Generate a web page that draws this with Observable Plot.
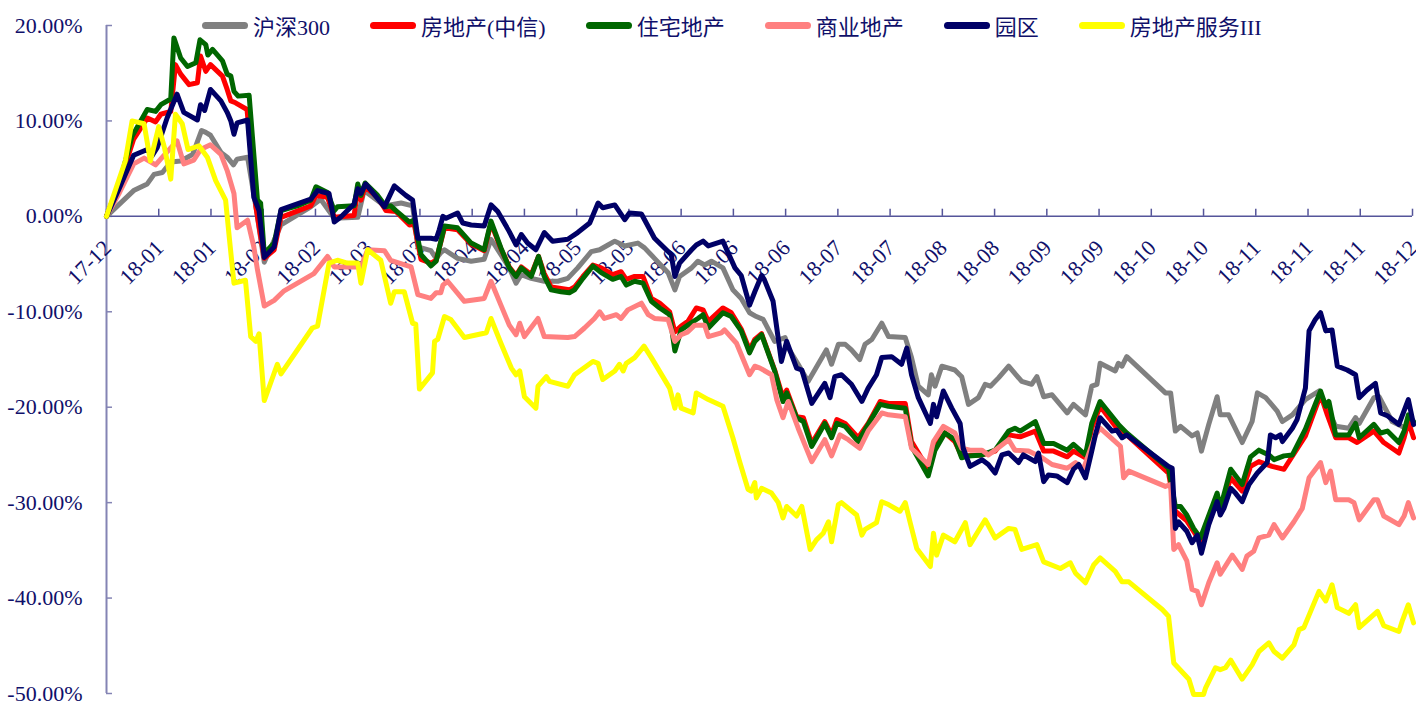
<!DOCTYPE html>
<html><head><meta charset="utf-8">
<script src="https://cdn.jsdelivr.net/npm/d3@7"></script>
<script src="https://cdn.jsdelivr.net/npm/@observablehq/plot@0.6"></script>
<style>
body{margin:0;background:#fff;}
#wrap{position:relative;width:1416px;height:705px;}
#legend{position:absolute;left:202px;top:0;height:50px;display:flex;align-items:center;font-family:"Liberation Serif","Noto Sans CJK SC",serif;font-size:22px;color:#10106a;white-space:nowrap;}
.item{display:flex;align-items:center;margin-right:40px;}
.sw{width:46px;height:7px;border-radius:4px;margin-right:5px;}
</style></head>
<body><div id="wrap"></div>
<script>
// ---- data (day index from 2017-12 start, cumulative return in %) ----
const tickLabels = ["17-12","18-01","18-01","18-02","18-02","18-03","18-03","18-04","18-04","18-05","18-05","18-06","18-06","18-06","18-07","18-07","18-08","18-08","18-09","18-09","18-10","18-10","18-11","18-11","18-11","18-12"];
const yTicks = [20,10,0,-10,-20,-30,-40,-50];
const seriesNames = ["沪深300","房地产(中信)","住宅地产","商业地产","园区","房地产服务III"];
const seriesColors = ["#808080","#ff0000","#006600","#ff8080","#000066","#ffff00"];

const hs300 = [[0,0],[5.2,2.7],[7.8,3.4],[9.1,4.4],[10.7,4.6],[12.3,5.7],[14.2,5.8],[16.5,6.5],[18.2,9.0],[19.0,8.8],[19.9,8.5],[21.9,6.7],[23.1,6.2],[24.3,5.4],[25.0,6.0],[27.0,6.2],[28.6,1.0],[30.2,-4.8],[33.4,-0.9],[39.1,1.0],[41.0,1.8],[43.6,-0.2],[48.1,-0.1],[49.3,2.7],[53.2,1.1],[56.4,1.4],[58.6,1.1],[59.6,-3.2],[62.1,-3.6],[63.1,-4.4],[64.0,-3.8],[64.7,-3.5],[67.2,-4.4],[69.8,-4.7],[72.3,-4.5],[73.6,-2.4],[75.5,-4.0],[77.1,-5.4],[78.4,-7.0],[79.4,-6.1],[81.3,-6.5],[83.8,-6.8],[86.4,-6.8],[88.3,-6.5],[90.2,-5.4],[92.8,-3.7],[94.4,-3.5],[96.0,-3.0],[97.3,-2.6],[99.2,-3.1],[101.7,-2.8],[103.0,-3.3],[104.9,-4.4],[107.5,-5.9],[108.8,-7.7],[109.7,-6.3],[112.0,-5.4],[113.2,-4.7],[114.5,-5.1],[115.8,-4.7],[118.0,-5.4],[119.9,-7.7],[121.5,-8.6],[123.1,-10.1],[124.4,-10.5],[125.7,-10.8],[127.9,-13.1],[129.9,-12.7],[130.5,-13.8],[132.4,-15.5],[134.3,-17.3],[137.8,-14.0],[138.8,-15.5],[140.1,-13.4],[141.4,-13.4],[142.6,-14.0],[144.2,-15.0],[145.2,-13.4],[146.5,-12.9],[148.4,-11.2],[149.7,-12.6],[152.9,-12.7],[154.1,-14.8],[155.4,-17.8],[157.3,-18.7],[157.9,-16.6],[158.6,-17.8],[159.9,-15.7],[162.4,-16.1],[163.7,-16.8],[165.0,-19.7],[166.9,-19.0],[168.2,-17.6],[169.2,-17.8],[170.8,-16.9],[172.7,-15.7],[175.2,-17.3],[177.1,-17.6],[178.1,-16.8],[179.4,-18.9],[181.0,-18.7],[183.9,-20.6],[185.1,-19.7],[187.4,-20.8],[188.6,-17.8],[189.6,-17.6],[190.2,-15.4],[193.1,-16.2],[193.7,-15.4],[194.4,-15.7],[195.3,-14.7],[202.7,-18.5],[203.7,-18.5],[204.6,-22.5],[205.6,-22.0],[207.8,-23.0],[208.8,-22.7],[209.6,-24.6],[211.0,-21.8],[212.6,-18.9],[213.2,-20.8],[214.8,-20.8],[217.4,-23.7],[219.3,-21.5],[220.3,-18.5],[221.9,-19.0],[224.1,-20.4],[225.1,-21.5],[227.0,-20.8],[229.5,-19.2],[232.1,-18.3],[235.3,-22.0],[237.8,-22.2],[239.1,-21.1],[239.8,-21.7],[242.6,-19.0],[243.6,-18.9],[246.1,-21.5],[248.7,-22.2],[250.2,-21.8]];

const realEstate = [[0,0],[2.5,3.5],[5.2,8.1],[7.8,10.3],[9.4,9.9],[10.4,10.7],[12.3,11.0],[13.2,15.9],[14.2,14.9],[15.8,13.8],[17.4,14.0],[18.0,16.8],[19.0,15.2],[19.9,15.9],[22.2,14.7],[23.1,13.3],[23.8,12.1],[24.7,11.9],[26.9,11.2],[28.6,1.0],[30.2,-4.4],[32.1,-3.5],[33.4,-0.1],[39.1,1.1],[40.1,2.2],[42.3,2.0],[43.6,-0.1],[47.4,0.1],[48.1,2.9],[48.7,1.7],[49.5,3.1],[51.9,2.0],[53.5,0.6],[55.4,0.5],[58.0,-0.9],[58.9,-0.8],[60.2,-4.5],[62.1,-4.9],[63.1,-4.6],[64.7,-1.2],[67.2,-1.4],[69.8,-2.9],[72.3,-3.6],[73.6,-0.7],[75.5,-3.4],[77.1,-5.3],[78.4,-6.2],[79.4,-5.3],[81.3,-6.1],[82.7,-4.2],[83.8,-6.0],[85.1,-7.4],[88.6,-7.7],[89.6,-7.4],[91.2,-6.3],[93.1,-5.1],[94.7,-5.4],[96.9,-6.1],[98.5,-5.8],[99.5,-6.6],[101.1,-6.3],[102.7,-6.3],[104.3,-8.6],[105.9,-9.1],[107.8,-10.0],[108.8,-12.1],[110.0,-11.5],[111.3,-11.0],[112.9,-9.6],[114.2,-9.8],[115.2,-11.0],[118.0,-9.6],[119.6,-10.1],[121.5,-11.8],[123.1,-14.0],[124.1,-12.9],[125.4,-12.3],[127.9,-16.1],[129.5,-19.0],[130.2,-18.2],[132.1,-21.0],[133.4,-21.1],[135.0,-23.8],[137.5,-21.5],[138.8,-22.9],[139.8,-21.3],[141.4,-21.7],[143.9,-23.2],[145.8,-21.7],[148.1,-19.4],[149.7,-19.6],[152.9,-19.6],[154.1,-23.6],[157.3,-26.5],[158.6,-24.1],[160.5,-22.7],[162.4,-23.6],[163.7,-25.1],[167.6,-25.0],[170.1,-24.6],[172.7,-22.9],[174.9,-23.1],[177.8,-22.5],[179.4,-24.6],[181.3,-24.6],[183.9,-25.2],[185.1,-24.6],[187.4,-25.3],[188.6,-22.2],[190.2,-19.9],[193.7,-22.4],[195.3,-22.9],[203.3,-26.9],[204.6,-30.9],[206.8,-31.9],[208.1,-33.0],[209.4,-34.1],[212.6,-29.5],[213.2,-30.9],[215.2,-27.4],[217.4,-28.8],[219.0,-26.2],[220.6,-25.7],[223.1,-26.2],[225.4,-26.5],[229.5,-23.0],[232.4,-18.7],[233.7,-20.8],[235.3,-23.2],[237.8,-23.2],[239.4,-23.7],[242.6,-22.5],[244.5,-23.7],[247.4,-24.8],[248.4,-23.2],[249.2,-21.5],[250.2,-23.2]];

const residential = [[0,0],[2.5,3.5],[4.9,8.4],[7.8,11.2],[9.4,11.0],[10.4,11.7],[12.3,12.3],[12.9,18.7],[14.2,16.6],[15.5,15.7],[17.1,16.1],[17.9,18.5],[19.0,18.0],[19.4,16.9],[20.3,17.5],[22.2,16.3],[23.1,14.9],[23.8,14.7],[24.4,13.1],[25.2,12.6],[27.3,12.7],[28.9,1.7],[29.5,1.4],[30.2,-3.9],[32.1,-2.8],[33.4,0.6],[36.5,1.1],[39.1,1.7],[40.1,3.1],[42.3,2.5],[43.6,0.6],[44.2,1.0],[47.4,1.1],[48.1,3.4],[48.7,2.2],[49.5,3.5],[51.9,2.2],[53.5,1.0],[54.4,1.1],[55.4,0.6],[58.0,-0.6],[58.9,-0.4],[60.2,-4.0],[62.1,-5.2],[63.1,-4.7],[64.7,-1.0],[67.2,-1.2],[69.8,-2.8],[72.3,-3.5],[73.6,-0.5],[75.5,-3.3],[77.1,-5.4],[78.4,-6.3],[79.4,-5.4],[81.3,-6.3],[82.7,-4.2],[83.8,-6.3],[85.1,-7.7],[87.0,-7.9],[88.6,-8.0],[89.6,-7.7],[91.2,-6.5],[93.1,-5.2],[94.7,-5.9],[96.9,-6.6],[98.5,-6.3],[99.5,-7.2],[101.1,-6.8],[102.7,-7.0],[104.3,-8.9],[105.9,-9.6],[107.8,-10.3],[108.8,-14.1],[110.0,-11.9],[111.3,-11.4],[113.2,-10.7],[114.2,-10.3],[115.2,-11.7],[118.0,-10.1],[119.6,-10.5],[121.5,-12.0],[123.1,-14.3],[124.1,-13.1],[125.4,-12.4],[127.9,-16.2],[129.5,-19.4],[130.2,-18.5],[132.1,-21.1],[133.4,-21.5],[135.0,-24.1],[137.5,-21.7],[138.8,-23.2],[139.8,-21.7],[141.4,-22.0],[143.9,-23.6],[145.8,-21.8],[148.1,-19.7],[149.7,-19.9],[152.9,-20.1],[154.1,-24.1],[157.3,-27.2],[158.6,-24.5],[160.5,-22.7],[162.4,-23.4],[163.7,-25.3],[165.0,-25.1],[167.6,-25.0],[170.1,-24.5],[172.7,-22.5],[173.9,-22.2],[174.9,-22.5],[177.8,-21.5],[179.4,-23.8],[181.3,-23.8],[183.9,-24.5],[185.1,-23.9],[187.4,-25.0],[188.6,-21.7],[190.2,-19.4],[193.7,-21.8],[195.3,-22.7],[203.3,-26.4],[204.6,-30.4],[205.6,-30.4],[206.8,-31.3],[208.1,-32.7],[209.4,-33.7],[212.6,-29.0],[213.2,-30.6],[215.2,-26.5],[217.4,-28.1],[219.0,-25.2],[220.6,-24.5],[222.5,-25.0],[223.5,-25.5],[225.4,-25.1],[227.0,-25.0],[229.5,-22.3],[232.4,-18.3],[233.4,-19.9],[234.0,-19.4],[235.3,-22.9],[237.8,-22.9],[239.1,-21.7],[239.8,-23.2],[242.6,-21.8],[243.9,-22.7],[245.2,-22.5],[247.4,-23.7],[248.4,-22.5],[249.2,-20.8],[250.2,-21.5]];

const commercial = [[0,0],[2.5,2.5],[5.2,5.5],[7.2,6.1],[9.4,5.4],[10.7,6.2],[13.5,7.9],[14.8,5.5],[16.7,5.9],[18.0,7.0],[19.9,7.5],[21.9,6.5],[23.1,4.8],[24.4,2.4],[25.0,-1.2],[27.0,-0.4],[28.2,-3.2],[28.9,-5.6],[30.2,-9.4],[32.1,-8.8],[34.0,-7.8],[39.7,-6.0],[42.3,-4.2],[43.6,-5.3],[48.7,-5.3],[50.0,-3.5],[53.2,-3.6],[54.4,-4.6],[58.3,-5.3],[59.6,-8.2],[62.1,-8.6],[63.1,-8.0],[64.0,-8.0],[64.4,-7.2],[65.3,-6.8],[68.5,-8.9],[72.3,-8.6],[73.6,-6.8],[75.5,-9.3],[77.1,-11.4],[78.4,-12.4],[79.1,-11.2],[80.0,-12.6],[82.6,-10.7],[83.8,-12.6],[88.3,-12.7],[89.6,-12.6],[91.5,-11.7],[93.4,-10.7],[94.4,-10.0],[95.3,-10.7],[97.6,-10.3],[98.5,-10.7],[99.8,-9.8],[102.4,-9.1],[103.7,-10.3],[104.9,-10.7],[107.5,-10.8],[108.8,-13.1],[110.0,-12.4],[111.3,-12.1],[112.6,-11.4],[114.5,-11.4],[115.2,-12.6],[117.7,-12.2],[118.3,-11.9],[120.6,-13.3],[123.1,-16.6],[124.1,-15.7],[125.1,-15.9],[127.3,-16.6],[128.3,-19.2],[129.5,-21.1],[130.5,-19.4],[132.4,-22.2],[135.0,-25.7],[137.5,-23.4],[138.8,-25.1],[140.4,-22.9],[142.0,-23.4],[144.2,-24.3],[145.8,-22.5],[148.4,-20.6],[149.7,-20.8],[152.9,-21.0],[154.1,-24.3],[157.3,-26.0],[158.3,-23.6],[160.2,-22.0],[162.4,-22.7],[163.7,-24.3],[165.3,-24.5],[167.6,-24.5],[168.8,-25.0],[170.1,-24.5],[172.7,-23.4],[173.9,-24.5],[176.5,-24.6],[179.1,-25.3],[181.0,-26.0],[183.9,-26.4],[185.5,-25.8],[187.0,-26.5],[189.3,-22.9],[190.2,-22.2],[193.1,-23.6],[194.1,-24.1],[194.7,-27.4],[195.7,-26.7],[202.7,-28.3],[203.7,-28.1],[204.3,-34.9],[205.2,-34.4],[206.8,-36.1],[207.8,-39.1],[208.8,-39.3],[209.6,-40.7],[211.0,-38.4],[212.6,-36.3],[213.2,-37.5],[215.5,-35.5],[217.4,-37.0],[218.3,-35.6],[219.6,-35.1],[220.6,-33.7],[222.5,-33.4],[223.5,-32.3],[225.1,-33.7],[227.3,-32.0],[228.9,-30.6],[230.2,-27.4],[232.4,-25.8],[233.4,-27.9],[234.3,-26.7],[235.3,-29.7],[237.8,-29.7],[238.8,-30.0],[239.8,-31.8],[242.6,-29.7],[243.3,-29.7],[244.5,-31.4],[247.4,-32.3],[248.4,-31.4],[249.2,-30.0],[250.2,-31.6]];

const parks = [[0,0],[2.5,3.0],[5.2,6.4],[7.8,7.0],[8.8,6.4],[9.7,7.2],[11.6,10.3],[13.5,12.8],[14.8,10.9],[17.4,10.1],[18.0,11.7],[18.8,11.1],[19.9,13.3],[21.9,12.1],[23.1,10.9],[23.8,10.0],[24.4,8.6],[25.0,9.8],[27.0,10.1],[28.2,2.0],[29.2,0.6],[30.2,-4.3],[32.1,-3.2],[33.4,0.7],[39.1,1.8],[40.4,2.7],[42.6,2.4],[43.6,-0.6],[44.8,-0.1],[47.4,1.3],[48.1,2.9],[48.7,2.4],[49.6,3.4],[53.2,1.0],[55.1,3.2],[57.3,2.2],[58.6,1.7],[59.6,-2.3],[62.1,-2.3],[63.1,-2.4],[63.7,-1.4],[64.4,0],[65.0,-0.2],[67.2,0.35],[68.2,-0.7],[69.8,-0.9],[72.3,-1.0],[73.6,1.2],[74.9,0.5],[77.1,-1.6],[78.4,-3.0],[79.4,-1.9],[80.6,-2.8],[82.2,-3.5],[83.8,-1.7],[85.4,-2.6],[88.3,-2.4],[90.2,-1.7],[92.5,-0.7],[94.1,1.4],[95.0,0.9],[97.3,1.2],[99.2,-0.35],[100.1,0.35],[102.4,0.25],[104.9,-2.3],[108.1,-4.0],[108.8,-6.3],[109.7,-4.9],[112.0,-3.5],[112.9,-3.0],[114.2,-2.6],[115.2,-3.1],[118.0,-2.6],[120.3,-5.4],[121.5,-6.2],[123.1,-9.3],[124.1,-7.9],[125.4,-6.2],[125.9,-6.6],[127.6,-8.9],[129.2,-15.2],[130.2,-13.1],[132.1,-15.9],[133.1,-16.1],[135.0,-19.6],[137.5,-17.5],[138.5,-19.0],[139.4,-16.8],[140.7,-16.6],[142.6,-17.6],[144.6,-19.4],[145.8,-18.0],[147.4,-16.6],[148.4,-14.8],[150.3,-14.7],[152.2,-15.5],[153.2,-13.8],[154.1,-16.6],[155.4,-19.0],[157.7,-21.7],[158.3,-19.7],[158.9,-21.0],[160.2,-18.3],[161.8,-20.1],[163.4,-21.7],[164.0,-24.3],[165.3,-26.2],[167.6,-25.5],[168.8,-26.0],[170.1,-26.9],[171.4,-25.0],[172.7,-24.8],[174.6,-25.8],[175.5,-25.0],[177.8,-25.7],[178.4,-24.8],[179.4,-27.8],[180.3,-27.1],[181.9,-27.2],[183.9,-27.9],[185.1,-26.5],[186.1,-26.0],[187.4,-27.4],[188.6,-24.6],[189.3,-22.9],[190.2,-21.1],[192.5,-22.5],[193.4,-22.4],[194.4,-23.2],[195.3,-22.9],[203.3,-26.2],[204.0,-26.4],[204.6,-32.7],[205.2,-32.0],[206.8,-33.0],[207.8,-34.2],[208.8,-33.4],[209.6,-35.3],[211.0,-32.3],[212.6,-29.9],[213.2,-31.3],[213.9,-30.6],[215.2,-28.5],[216.1,-29.0],[217.4,-29.9],[218.7,-28.1],[220.3,-26.9],[222.2,-25.8],[222.8,-22.9],[223.8,-23.2],[224.7,-22.9],[225.1,-23.6],[227.0,-22.2],[227.9,-21.3],[229.5,-18.0],[230.2,-12.0],[231.4,-10.8],[232.4,-10.1],[233.4,-12.0],[234.6,-11.9],[235.6,-15.7],[237.5,-16.1],[239.1,-16.6],[239.8,-19.0],[241.3,-18.2],[242.9,-17.5],[243.9,-20.6],[245.2,-20.9],[247.4,-21.8],[249.2,-19.2],[250.2,-21.8]];

const services = [[0,0],[3.6,5.8],[4.9,10.0],[7.2,9.7],[8.4,5.8],[10.0,9.4],[11.1,7.2],[12.3,3.9],[13.2,10.7],[14.5,9.7],[15.6,7.0],[17.7,7.4],[19.3,6.2],[20.9,3.75],[22.8,1.7],[23.5,-2.2],[24.4,-7.0],[26.6,-6.7],[27.6,-12.6],[28.6,-13.1],[29.2,-12.3],[30.2,-19.3],[32.7,-15.5],[33.4,-16.5],[39.4,-11.7],[40.4,-11.5],[42.6,-4.9],[44.2,-4.6],[46.1,-4.9],[48.1,-4.9],[48.7,-7.0],[50.0,-3.5],[52.5,-4.6],[54.4,-9.1],[55.1,-7.9],[57.0,-7.9],[58.6,-11.2],[59.2,-11.3],[59.9,-18.1],[62.4,-16.4],[62.8,-13.1],[63.4,-12.9],[64.7,-10.5],[65.9,-10.8],[68.5,-12.7],[72.7,-12.2],[73.6,-10.7],[75.5,-13.3],[77.5,-15.9],[78.4,-16.6],[79.1,-16.2],[80.0,-18.9],[82.2,-20.1],[82.6,-17.8],[84.2,-16.8],[84.8,-17.3],[88.3,-17.8],[89.6,-16.6],[93.1,-15.2],[94.1,-15.4],[95.0,-17.1],[97.3,-16.2],[98.2,-15.5],[98.9,-16.2],[99.5,-15.4],[101.1,-14.8],[102.9,-13.6],[104.3,-14.8],[107.8,-18.0],[108.8,-20.1],[109.4,-18.7],[110.0,-20.1],[112.3,-20.6],[112.9,-18.5],[115.2,-19.2],[118.0,-19.9],[119.9,-23.2],[121.2,-25.7],[122.8,-28.6],[123.4,-28.8],[124.1,-27.9],[124.4,-29.5],[125.4,-28.5],[127.3,-29.0],[128.6,-30.0],[129.5,-31.6],[130.2,-30.4],[132.1,-31.4],[133.1,-30.4],[134.7,-34.9],[135.9,-33.9],[137.2,-33.2],[138.2,-32.0],[138.8,-34.1],[140.1,-30.2],[140.7,-30.0],[143.6,-31.3],[144.6,-33.4],[145.2,-32.8],[147.4,-32.1],[148.4,-29.9],[149.7,-30.2],[151.9,-30.9],[152.9,-30.0],[153.8,-32.0],[155.1,-34.8],[157.7,-36.7],[158.3,-33.2],[158.9,-35.5],[160.2,-33.4],[162.4,-34.1],[164.4,-32.1],[165.3,-34.4],[168.2,-31.8],[170.1,-33.7],[172.7,-32.7],[173.9,-32.8],[175.2,-34.9],[178.1,-34.4],[179.4,-36.2],[182.6,-36.9],[184.5,-36.3],[185.5,-37.4],[187.4,-38.4],[189.0,-36.5],[190.2,-35.8],[193.1,-37.2],[194.4,-38.3],[195.7,-38.3],[202.1,-41.2],[203.3,-41.9],[204.3,-46.8],[207.2,-48.5],[208.1,-50.1],[210.0,-50.1],[210.4,-49.4],[212.3,-47.3],[213.2,-47.5],[214.2,-47.3],[215.2,-46.5],[217.4,-48.5],[219.3,-47.0],[220.6,-45.6],[222.5,-44.7],[223.5,-45.6],[225.1,-46.3],[227.3,-44.9],[228.3,-43.3],[229.2,-43.1],[232.1,-39.3],[233.4,-40.3],[234.6,-38.6],[235.6,-41.0],[237.8,-41.6],[239.1,-40.7],[239.8,-43.1],[243.3,-41.4],[244.5,-42.9],[247.4,-43.5],[248.1,-42.3],[249.2,-40.7],[250.2,-42.6]];

const seriesData = [hs300, realEstate, residential, commercial, parks, services];
const rows = seriesData.flatMap((s, k) => s.map(([day, value]) => ({name: seriesNames[k], day, value})));
const ticks = tickLabels.map((label, i) => ({label, day: i * 10}));

const textColor = "#10106a";
const font = "'Liberation Serif', 'Noto Sans CJK SC', serif";

const chart = Plot.plot({
  width: 1416, height: 705,
  marginLeft: 106, marginRight: 4, marginTop: 25, marginBottom: 12,
  x: {domain: [0, 250], axis: null},
  y: {domain: [-50, 20], axis: null},
  color: {domain: seriesNames, range: seriesColors},
  style: {fontFamily: font, background: "#ffffff", overflow: "visible"},
  marks: [
    Plot.ruleX([0], {stroke: "#8484b4", strokeWidth: 2}),
    Plot.tickY(yTicks, {y: d => d, insetRight: 1300, stroke: "#8484b4", strokeWidth: 1.5}),
    Plot.text(yTicks, {x: 0, y: d => d, text: d => d.toFixed(2) + "%", textAnchor: "end", dx: -24, fontSize: 22, fill: textColor}),
    Plot.ruleY([0], {stroke: "#55559a", strokeWidth: 1.5}),
    Plot.ruleX(ticks, {x: "day", y1: 0, y2: 0.75, stroke: "#55559a", strokeWidth: 1.5}),
    Plot.text(ticks, {x: "day", y: 0, text: "label", rotate: -45, textAnchor: "end", dx: 1, dy: 28, fontSize: 22, fill: textColor}),
    Plot.line(rows, {x: "day", y: "value", z: "name", stroke: "name", strokeWidth: 5, strokeLinejoin: "round", strokeLinecap: "round"})
  ]
});

const wrap = document.getElementById("wrap");
wrap.appendChild(chart);
const legend = document.createElement("div");
legend.id = "legend";
seriesNames.forEach((n, i) => {
  const item = document.createElement("div");
  item.className = "item";
  const sw = document.createElement("div");
  sw.className = "sw";
  sw.style.background = seriesColors[i];
  const t = document.createElement("span");
  t.textContent = n;
  item.appendChild(sw); item.appendChild(t);
  legend.appendChild(item);
});
wrap.appendChild(legend);
</script>
</body></html>
